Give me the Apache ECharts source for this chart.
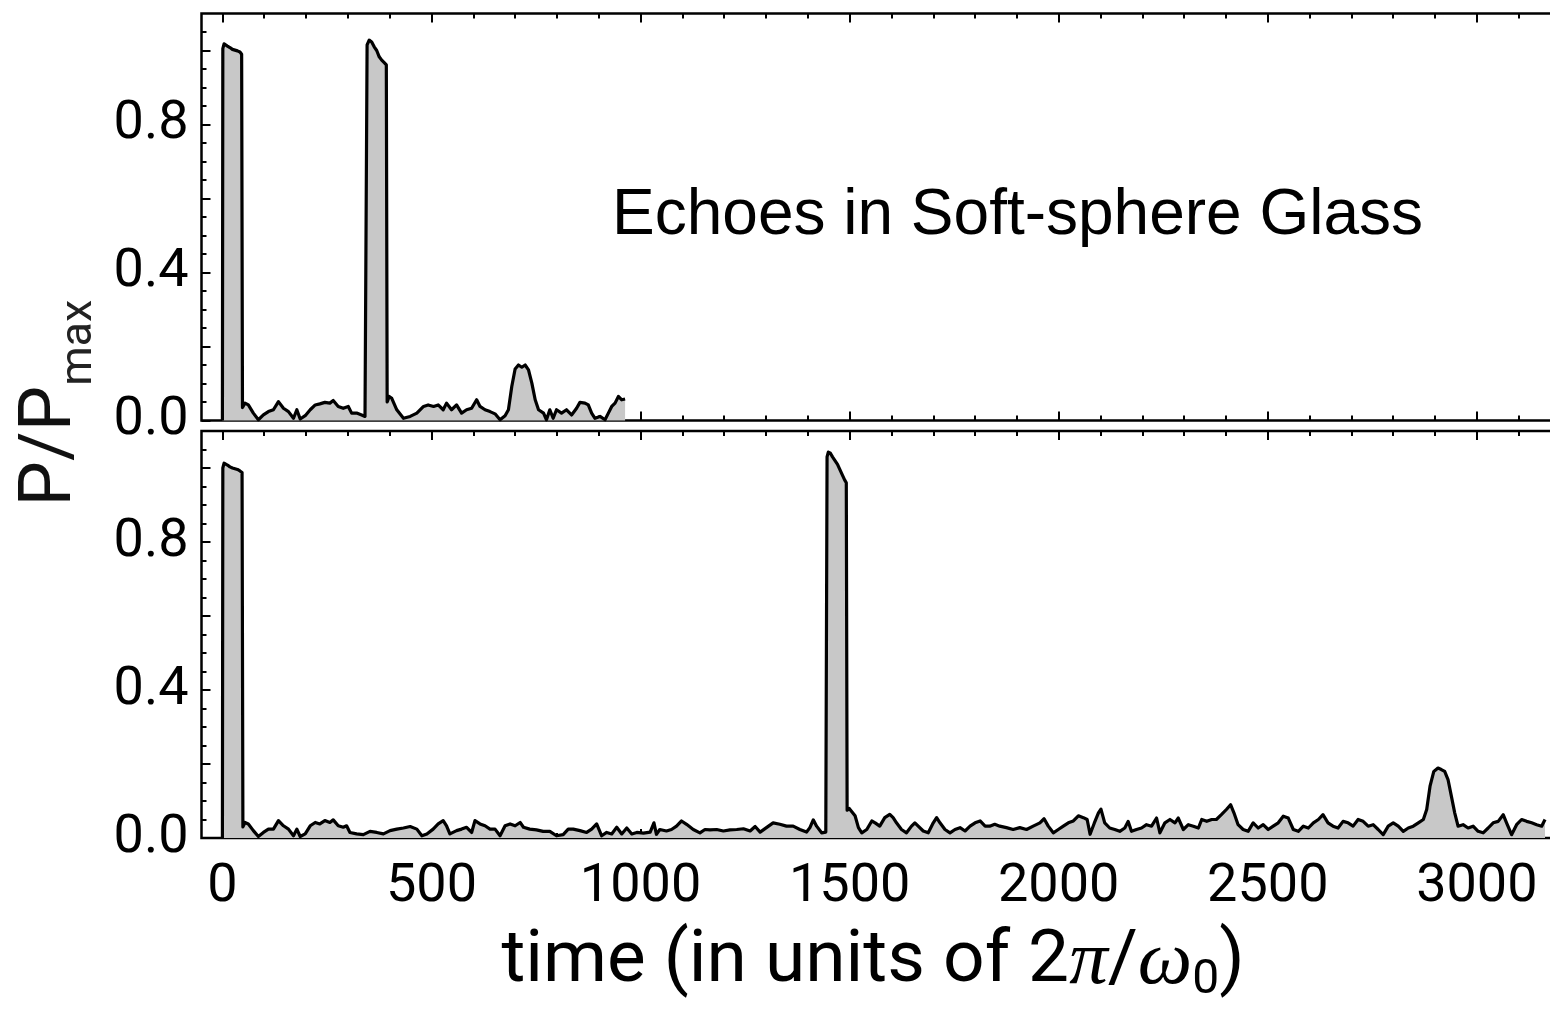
<!DOCTYPE html>
<html>
<head>
<meta charset="utf-8">
<title>Echoes in Soft-sphere Glass</title>
<script src="https://cdn.jsdelivr.net/npm/echarts@6/dist/echarts.min.js"></script>
<style>
  html, body { margin: 0; padding: 0; background: #fff; }
  #chart { width: 1550px; height: 1009px; }
</style>
</head>
<body>
<div id="chart"></div>
<script>
// Echo power P/Pmax versus time, [time, P/Pmax]; upper run (short) and lower run (long).
const upperTrace = [
  [0,0],[1,1.005],[4,1.018],[8,1.015],[12,1.012],[18,1.008],[24,1.003],[30,1.001],[36,0.999],[42,0.996],
  [46,0.99],[48,0.035],[54,0.047],[62,0.042],[74,0.020],[86,0.002],[98,0.015],[110,0.024],[122,0.029],[134,0.051],
  [146,0.033],[158,0.024],[170,0.006],[178,0.029],[186,0.004],[198,0.013],[210,0.029],[222,0.042],[233,0.045],[245,0.049],
  [257,0.047],[265,0.054],[277,0.038],[289,0.033],[301,0.038],[309,0.020],[321,0.020],[333,0.015],[341,0.011],[344,0.015],
  [346,1.015],[351,1.028],[357,1.023],[363,1.010],[369,1.000],[375,0.983],[381,0.974],[387,0.967],[392,0.961],[394,0.05],
  [399,0.065],[405,0.060],[417,0.029],[433,0.006],[449,0.011],[465,0.020],[481,0.038],[492,0.042],[505,0.038],[516,0.042],
  [528,0.029],[536,0.047],[548,0.029],[560,0.042],[572,0.020],[584,0.029],[596,0.033],[608,0.056],[616,0.038],[628,0.029],
  [640,0.024],[652,0.018],[664,0.002],[676,0.013],[684,0.029],[692,0.092],[700,0.139],[708,0.150],[716,0.144],[724,0.150],
  [732,0.137],[740,0.101],[748,0.056],[756,0.029],[768,0.020],[775,0.002],[783,0.029],[791,0.006],[799,0.029],[811,0.020],
  [823,0.029],[835,0.015],[847,0.033],[855,0.049],[867,0.047],[875,0.042],[883,0.020],[891,0.006],[903,0.011],[915,0.002],
  [923,0.020],[931,0.038],[939,0.047],[947,0.065],[955,0.056],[963,0.058]
];

const lowerTrace = [
  [0,0],[1,1.0],[4,1.013],[8,1.013],[12,1.008],[18,1.003],[24,1.0],[30,0.998],[36,0.996],[42,0.992],[47,0.988],[49,0.03],
  [54,0.042],[62,0.038],[74,0.02],[86,0.004],[98,0.015],[110,0.024],[122,0.024],[134,0.047],[146,0.033],[158,0.024],
  [170,0.006],[178,0.024],[186,0.004],[198,0.011],[210,0.033],[222,0.042],[233,0.038],[245,0.047],[257,0.042],[265,0.049],
  [277,0.033],[289,0.029],[297,0.033],[305,0.015],[321,0.011],[337,0.009],[353,0.018],[369,0.015],[385,0.011],[401,0.02],
  [417,0.024],[433,0.027],[449,0.031],[465,0.024],[477,0.006],[489,0.011],[504,0.024],[516,0.038],[528,0.047],[536,0.033],
  [544,0.011],[560,0.02],[572,0.024],[584,0.029],[596,0.015],[604,0.047],[616,0.038],[628,0.033],[640,0.024],[652,0.024],
  [664,0.006],[676,0.033],[688,0.038],[700,0.033],[712,0.042],[720,0.029],[735,0.024],[751,0.022],[767,0.018],[783,0.018],
  [799,0.006],[815,0.009],[827,0.024],[839,0.024],[855,0.02],[871,0.015],[883,0.024],[895,0.038],[907,0.006],[919,0.015],
  [931,0.011],[943,0.029],[955,0.011],[967,0.027],[979,0.011],[991,0.015],[1007,0.013],[1023,0.016],[1032,0.041],[1038,0.01],
  [1046,0.023],[1062,0.019],[1074,0.023],[1086,0.032],[1098,0.046],[1110,0.037],[1126,0.023],[1142,0.014],[1154,0.023],[1166,0.022],
  [1182,0.023],[1198,0.019],[1214,0.022],[1230,0.023],[1246,0.025],[1262,0.019],[1274,0.031],[1286,0.016],[1301,0.028],[1317,0.041],
  [1333,0.037],[1349,0.032],[1365,0.032],[1381,0.023],[1397,0.016],[1405,0.028],[1413,0.049],[1421,0.032],[1433,0.014],[1443,0.016],
  [1446,1.03],[1449,1.043],[1454,1.04],[1459,1.03],[1465,1.02],[1471,1.01],[1477,0.995],[1483,0.98],[1488,0.968],[1492,0.96],
  [1494,0.075],[1499,0.08],[1513,0.06],[1521,0.028],[1529,0.014],[1541,0.023],[1553,0.046],[1561,0.041],[1572,0.032],[1584,0.055],
  [1596,0.064],[1604,0.055],[1612,0.041],[1624,0.023],[1636,0.014],[1648,0.032],[1656,0.041],[1664,0.032],[1676,0.019],[1688,0.014],
  [1700,0.041],[1708,0.055],[1716,0.041],[1728,0.023],[1740,0.014],[1752,0.023],[1764,0.028],[1776,0.019],[1788,0.032],[1800,0.041],
  [1812,0.046],[1824,0.032],[1835,0.032],[1847,0.037],[1859,0.032],[1875,0.028],[1891,0.023],[1907,0.028],[1923,0.023],[1939,0.032],
  [1955,0.041],[1965,0.052],[1975,0.032],[1987,0.014],[1999,0.023],[2011,0.032],[2023,0.041],[2035,0.046],[2047,0.06],[2059,0.055],
  [2068,0.05],[2075,0.01],[2085,0.04],[2095,0.068],[2101,0.078],[2110,0.041],[2122,0.027],[2134,0.023],[2146,0.018],[2158,0.027],
  [2166,0.045],[2174,0.018],[2186,0.023],[2198,0.027],[2210,0.036],[2222,0.032],[2234,0.054],[2242,0.014],[2254,0.041],[2266,0.05],
  [2278,0.041],[2286,0.054],[2298,0.023],[2310,0.036],[2322,0.032],[2334,0.027],[2342,0.05],[2354,0.045],[2366,0.05],[2377,0.05],
  [2389,0.063],[2401,0.077],[2411,0.09],[2419,0.068],[2429,0.036],[2441,0.023],[2453,0.018],[2465,0.041],[2477,0.027],[2489,0.036],
  [2501,0.023],[2513,0.032],[2525,0.041],[2537,0.059],[2549,0.054],[2561,0.023],[2573,0.018],[2585,0.032],[2597,0.027],[2609,0.041],
  [2621,0.05],[2632,0.063],[2644,0.041],[2656,0.032],[2668,0.027],[2680,0.045],[2692,0.041],[2704,0.032],[2716,0.05],[2728,0.045],
  [2740,0.032],[2752,0.036],[2764,0.023],[2776,0.009],[2788,0.032],[2800,0.041],[2812,0.032],[2824,0.018],[2836,0.027],[2848,0.032],
  [2860,0.041],[2872,0.05],[2880,0.077],[2888,0.14],[2897,0.18],[2907,0.189],[2915,0.185],[2923,0.18],[2931,0.158],[2939,0.113],
  [2947,0.068],[2955,0.032],[2967,0.036],[2979,0.027],[2991,0.032],[3003,0.018],[3015,0.014],[3027,0.027],[3039,0.041],[3051,0.045],
  [3063,0.063],[3071,0.041],[3083,0.009],[3095,0.036],[3107,0.05],[3119,0.045],[3131,0.041],[3143,0.036],[3155,0.032],[3163,0.05]
];

// Tick positions and labels
const timeLabels = [0, 500, 1000, 1500, 2000, 2500, 3000];
const timeMinorTicks = [100,200,300,400,600,700,800,900,1100,1200,1300,1400,1600,1700,1800,1900,
                        2100,2200,2300,2400,2600,2700,2800,2900,3100];
const powerMajorTicks = [0, 0.2, 0.4, 0.6, 0.8, 1.0];
const powerMinorTicks = [0.05,0.1,0.15,0.25,0.3,0.35,0.45,0.5,0.55,0.65,0.7,0.75,0.85,0.9,0.95,1.05];
const powerLabels = [0, 0.4, 0.8];

const titleText = 'Echoes in Soft-sphere Glass';

const X_MIN = -50, X_MAX = 3200, Y_MAX = 1.1;
const INK = '#000';
const FILL = '#c8c8c8';
const TICK_FONT = 'Roboto';
const TICK_SIZE = 54;

function xAxisSpec(gridIndex, position, ticks, length, labelled) {
  return {
    type: 'value', gridIndex, position, min: X_MIN, max: X_MAX,
    axisLine: { show: false, onZero: false },
    splitLine: { show: false },
    axisTick: { show: true, inside: true, length, customValues: ticks,
                lineStyle: { color: INK, width: 2 } },
    axisLabel: labelled
      ? { show: true, customValues: timeLabels, margin: 22, color: INK,
          fontFamily: TICK_FONT, fontSize: TICK_SIZE,
          formatter: v => String(Math.round(v)) }
      : { show: false }
  };
}

function yAxisSpec(gridIndex, ticks, length, labelled) {
  return {
    type: 'value', gridIndex, position: 'left', min: 0, max: Y_MAX,
    axisLine: { show: false, onZero: false },
    splitLine: { show: false },
    axisTick: { show: true, inside: true, length, customValues: ticks,
                lineStyle: { color: INK, width: 2 } },
    axisLabel: labelled
      ? { show: true, customValues: powerLabels, margin: 13, color: INK,
          fontFamily: TICK_FONT, fontSize: TICK_SIZE,
          formatter: v => Number(v).toFixed(1) }
      : { show: false }
  };
}

function traceSeries(axisIndex, yIndex, data) {
  return {
    type: 'line', xAxisIndex: axisIndex, yAxisIndex: yIndex, data,
    symbol: 'none', showSymbol: false, smooth: false, clip: true,
    lineStyle: { color: INK, width: 3.2, join: 'round' },
    areaStyle: { color: FILL, opacity: 1 },
    silent: true, animation: false
  };
}

const chart = echarts.init(document.getElementById('chart'), null, { renderer: 'canvas' });

chart.setOption({
  animation: false,
  backgroundColor: '#fff',
  grid: [
    { left: 201.5, top: 13.5, width: 1359, height: 407, show: true,
      borderColor: INK, borderWidth: 2.5, outerBoundsMode: 'none' },
    { left: 201.5, top: 431, width: 1359, height: 407, show: true,
      borderColor: INK, borderWidth: 2.5, outerBoundsMode: 'none' }
  ],
  xAxis: [
    xAxisSpec(0, 'bottom', timeLabels, 9, false),
    xAxisSpec(0, 'bottom', timeMinorTicks, 5, false),
    xAxisSpec(0, 'top', timeLabels, 9, false),
    xAxisSpec(0, 'top', timeMinorTicks, 5, false),
    xAxisSpec(1, 'bottom', timeLabels, 9, true),
    xAxisSpec(1, 'bottom', timeMinorTicks, 5, false),
    xAxisSpec(1, 'top', timeLabels, 9, false),
    xAxisSpec(1, 'top', timeMinorTicks, 5, false)
  ],
  yAxis: [
    yAxisSpec(0, powerMajorTicks, 9, true),
    yAxisSpec(0, powerMinorTicks, 5, false),
    yAxisSpec(1, powerMajorTicks, 9, true),
    yAxisSpec(1, powerMinorTicks, 5, false)
  ],
  series: [
    traceSeries(0, 0, upperTrace),
    traceSeries(4, 2, lowerTrace)
  ],
  graphic: [
    {
      type: 'text', x: 612, y: 216, silent: true,
      style: { text: titleText, fill: INK, font: '64px "Liberation Sans"',
               align: 'left', verticalAlign: 'middle' }
    },
    {
      type: 'text', x: 52, y: 403, rotation: Math.PI / 2, silent: true,
      style: {
        text: '{p|P/P}{m|max}', fill: INK, align: 'center', verticalAlign: 'middle',
        rich: {
          p: { fontFamily: 'Roboto', fontSize: 72, lineHeight: 100, fill: '#111' },
          m: { fontFamily: 'Roboto', fontSize: 45, lineHeight: 44, verticalAlign: 'bottom', fill: '#222' }
        }
      }
    },
    {
      type: 'text', x: 873, y: 963, silent: true,
      style: {
        text: '{a|time (in units of 2}{g|π}{a|/}{g|ω}{s|0}{a|)}', fill: INK,
        align: 'center', verticalAlign: 'middle',
        rich: {
          a: { fontFamily: 'Roboto', fontSize: 73, lineHeight: 84, fill: INK },
          g: { fontFamily: 'Liberation Serif', fontStyle: 'italic', fontSize: 77, lineHeight: 84, fill: INK },
          s: { fontFamily: 'Roboto', fontSize: 48, lineHeight: 40, verticalAlign: 'bottom', fill: INK }
        }
      }
    }
  ]
});
</script>
</body>
</html>
